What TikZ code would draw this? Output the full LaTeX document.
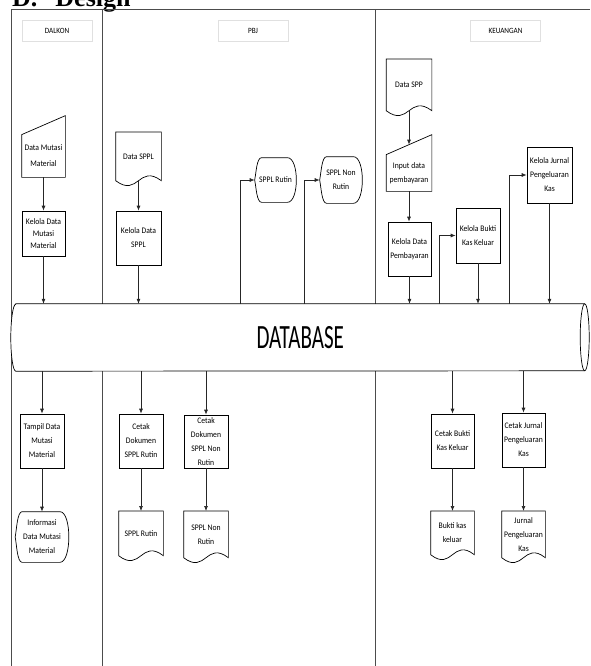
\documentclass[tikz,border=0pt]{standalone}
\usepackage{fontspec}
\setmainfont{Carlito}
\newfontfamily\smallfont[FakeStretch=0.9]{Carlito}
\newfontfamily\dbfont[FakeStretch=0.62]{Carlito}
\newfontfamily\titlefont{Liberation Serif}
\usetikzlibrary{arrows.meta}

\tikzset{
  lane/.style={line width=0.8pt,draw=black!70},
  hdr/.style={draw=black!12,fill=white,minimum width=70pt,minimum height=21pt,inner sep=0pt,font=\smallfont\fontsize{8}{10}\selectfont},
  proc/.style={draw,fill=white,line width=0.7pt,align=center,inner sep=0pt,font=\smallfont\fontsize{8.5}{14}\selectfont},
  doc/.style={proc,draw=none,fill=none},
  disp/.style={proc,draw=none,fill=none},
  manual/.style={proc,draw=none,fill=none},
  arr/.style={-{Latex[length=5pt,width=4pt]},line width=0.7pt,draw=black!85}
}
\newcommand{\dispshape}[1]{%
  \draw[line width=0.7pt] ([xshift=7pt]#1.north west) -- ([xshift=-9pt]#1.north east)
  .. controls ([xshift=3pt]#1.north east) and ([xshift=3pt]#1.south east) .. ([xshift=-9pt]#1.south east)
  -- ([xshift=7pt]#1.south west)
  .. controls ([xshift=2pt]#1.south west) and ([xshift=1.5pt,yshift=-7pt]#1.west) .. (#1.west)
  .. controls ([xshift=1.5pt,yshift=7pt]#1.west) and ([xshift=2pt]#1.north west) .. cycle;}
\newcommand{\manualshape}[2]{%
  \draw[line width=0.7pt] (#1.south west) -- (#1.south east) -- ([yshift=#2]#1.north east) -- (#1.north west) -- cycle;}
\newcommand{\docshape}[1]{%
  \draw[line width=0.7pt] (#1.north west) -- (#1.north east) -- (#1.south east)
  .. controls ([yshift=17pt]#1.south) and ([yshift=-17pt]#1.south) .. (#1.south west) -- cycle;}

\begin{document}
\begin{tikzpicture}[x=1pt,y=-1pt]
\useasboundingbox (0,0) rectangle (590,666);
\node[anchor=base west,inner sep=0pt,font=\titlefont\bfseries\fontsize{26}{30}\selectfont] (title) at (12,7) {D.\hspace{18pt}Design};

\draw[lane] (11,666) -- (11,9.5) -- (590,9.5);
\draw[lane] (102.5,9.5) -- (102.5,666);
\draw[lane] (375,9.5) -- (375,666);

\node[hdr] (dalkon) at (57,30.5) {DALKON};
\node[hdr] (pbj) at (253,30.5) {PBJ};
\node[hdr] (keu) at (505.5,30.5) {KEUANGAN};

\node[minimum width=568.5pt,minimum height=67pt,inner sep=0pt] (db) at (300.25,337.5) {};
\draw[line width=0.7pt,fill=white] (db.north west) -- (db.north east)
  arc[start angle=90,end angle=-90,x radius=4.5pt,y radius=33.5pt] -- (db.south west)
  arc[start angle=270,end angle=90,x radius=5pt,y radius=33.5pt] -- cycle;
\draw[line width=0.7pt] (db.north east) arc[start angle=90,end angle=270,x radius=4.5pt,y radius=33.5pt];
\node[font=\dbfont\fontsize{34}{40}\selectfont] (dbtext) at (db) {DATABASE};

% DALKON
\node[manual,minimum width=43pt,minimum height=42pt,font=\smallfont\fontsize{8.5}{16}\selectfont] (dmm) at (43.5,156) {Data Mutasi\\Material};
\manualshape{dmm}{19pt}
\node[proc,minimum width=43pt,minimum height=45pt,font=\smallfont\fontsize{8.5}{12}\selectfont] (kdm) at (43.5,233.5) {Kelola Data\\Mutasi\\Material};
\node[proc,minimum width=44pt,minimum height=54pt] (tdm) at (42,441) {Tampil Data\\Mutasi\\Material};
\node[disp,minimum width=53pt,minimum height=50pt] (idm) at (42,537) {Informasi\\Data Mutasi\\Material};
\dispshape{idm}

% PBJ
\node[doc,anchor=north,minimum width=45pt,minimum height=48pt] (dsppl) at (138.5,132) {Data SPPL};
\docshape{dsppl}
\node[proc,minimum width=45pt,minimum height=54pt] (ksppl) at (138.5,238) {Kelola Data\\SPPL};
\node[disp,minimum width=41pt,minimum height=44pt] (sr) at (275.5,180) {SPPL Rutin};
\dispshape{sr}
\node[disp,minimum width=42pt,minimum height=46pt] (snr) at (341,180) {SPPL Non\\Rutin};
\dispshape{snr}
\node[proc,minimum width=44pt,minimum height=54pt] (cdr) at (141,441) {Cetak\\Dokumen\\SPPL Rutin};
\node[proc,minimum width=44pt,minimum height=53pt] (cdnr) at (206,441.5) {Cetak\\Dokumen\\SPPL Non\\Rutin};
\node[doc,anchor=north,minimum width=44pt,minimum height=44pt] (dr) at (141,511) {SPPL Rutin};
\docshape{dr}
\node[doc,anchor=north,minimum width=44pt,minimum height=46pt] (dnr) at (206,511) {SPPL Non\\Rutin};
\docshape{dnr}

% KEUANGAN
\node[doc,anchor=north,minimum width=45pt,minimum height=51pt] (dspp) at (409,59) {Data SPP};
\docshape{dspp}
\node[manual,minimum width=45pt,minimum height=36pt] (idp) at (409,173) {Input data\\pembayaran};
\manualshape{idp}{20pt}
\node[proc,minimum width=43pt,minimum height=54pt] (kdp) at (409.5,249) {Kelola Data\\Pembayaran};
\node[proc,minimum width=44pt,minimum height=55pt] (kbk) at (478,235.5) {Kelola Bukti\\Kas Keluar};
\node[proc,minimum width=45pt,minimum height=56pt] (kjp) at (549.5,175) {Kelola Jurnal\\Pengeluaran\\Kas};
\node[proc,minimum width=43pt,minimum height=54pt] (cbk) at (452.5,441) {Cetak Bukti\\Kas Keluar};
\node[proc,minimum width=43pt,minimum height=54pt] (cjp) at (523.5,440) {Cetak Jurnal\\Pengeluaran\\Kas};
\node[doc,anchor=north,minimum width=43pt,minimum height=43pt] (bkk) at (452.5,511) {Bukti kas\\keluar};
\docshape{bkk}
\node[doc,anchor=north,minimum width=43pt,minimum height=46pt] (jpk) at (523.5,511) {Jurnal\\Pengeluaran\\Kas};
\docshape{jpk}

\coordinate (jr) at (db.north -| 240,0);
\coordinate (jnr) at (db.north -| 304,0);
\coordinate (jb) at (db.north -| 439,0);
\coordinate (jj) at (db.north -| 509,0);

\draw[arr] (dmm) -- (kdm);
\draw[arr] (kdm) -- (kdm |- db.north);
\draw[arr] (tdm |- db.south) -- (tdm);
\draw[arr] (tdm) -- (idm);
\draw[arr] (dsppl) -- (ksppl);
\draw[arr] (ksppl) -- (ksppl |- db.north);
\draw[arr] (jr) |- (sr.west);
\draw[arr] (jnr) |- (snr.west);
\draw[arr] (cdr |- db.south) -- (cdr);
\draw[arr] (cdr) -- (dr);
\draw[arr] (cdnr |- db.south) -- (cdnr);
\draw[arr] (cdnr) -- (dnr);
\draw[arr] (dspp) -- ([yshift=10pt]idp.north);
\draw[arr] (idp) -- (idp |- kdp.north);
\draw[arr] (kdp) -- (kdp |- db.north);
\draw[arr] (jb) |- (kbk.west);
\draw[arr] (kbk) -- (kbk |- db.north);
\draw[arr] (jj) |- (kjp.west);
\draw[arr] (kjp) -- (kjp |- db.north);
\draw[arr] (cbk |- db.south) -- (cbk);
\draw[arr] (cbk) -- (bkk);
\draw[arr] (cjp |- db.south) -- (cjp);
\draw[arr] (cjp) -- (jpk);
\end{tikzpicture}
\end{document}
